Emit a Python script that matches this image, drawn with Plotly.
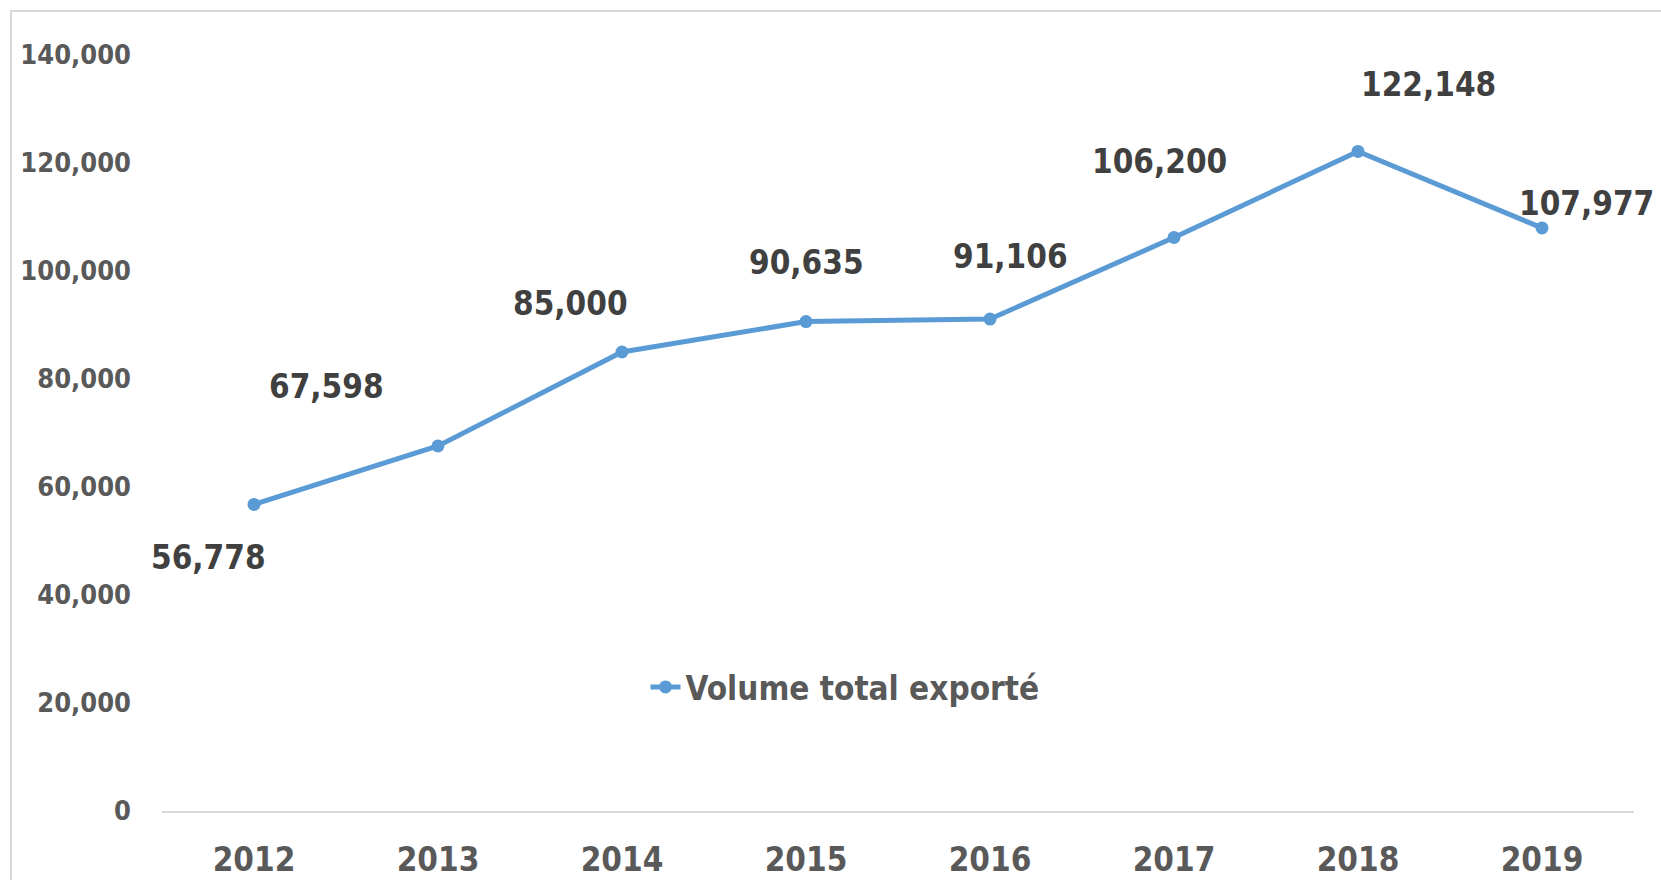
import plotly.graph_objects as go

years = ["2012", "2013", "2014", "2015", "2016", "2017", "2018", "2019"]
volumes = [56778, 67598, 85000, 90635, 91106, 106200, 122148, 107977]
series_name = "Volume total exporté"
y_ticks = [0, 20000, 40000, 60000, 80000, 100000, 120000, 140000]

# label offsets (pixels) relative to each point
label_dx = [-46, -112, -52, 0, 20, -15, 70, 114]
label_dy = [-53, 59, 49, 59, 63, 76, 67, 24]
label_anchor = ["center"] * 7 + ["right"]

FONT = "Liberation Sans Narrow, Arial Narrow, DejaVu Sans Condensed, sans-serif"
BLUE = "#5b9bd5"
BIG = 33

fig = go.Figure()
fig.add_trace(go.Scatter(
    x=years, y=volumes, name=series_name, mode="lines+markers",
    line=dict(color=BLUE, width=5),
    marker=dict(color=BLUE, size=13),
    showlegend=True,
))

for i, (v, dx, dy, anc) in enumerate(zip(volumes, label_dx, label_dy, label_anchor)):
    fig.add_annotation(
        x=i, y=v, xref="x", yref="y", text=f"{v:,}", showarrow=False,
        xshift=dx, yshift=dy, xanchor=anc, yanchor="middle",
        font=dict(family=FONT, size=BIG, color="#404040", weight="bold"),
    )

fig.add_shape(type="rect", xref="paper", yref="paper",
              x0=-0.1026, x1=1.2, y0=-0.3, y1=1.0582,
              line=dict(color="#d9d9d9", width=2), layer="below")

fig.update_layout(
    width=1661, height=880,
    margin=dict(l=162, r=27, t=55, b=69),
    paper_bgcolor="white", plot_bgcolor="white",
    font=dict(family=FONT, color="#595959"),
    legend=dict(x=0.464, y=0.164, xanchor="center", yanchor="middle",
                font=dict(family=FONT, size=BIG, color="#595959", weight="bold"),
                bgcolor="rgba(0,0,0,0)"),
    xaxis=dict(
        type="category", range=[-0.5, 7.5], automargin=False,
        showline=True, linecolor="#d9d9d9", linewidth=2,
        showgrid=False, zeroline=False, ticks="",
        tickfont=dict(family=FONT, size=BIG, color="#595959", weight="bold"),
        ticklabelstandoff=18,
    ),
    yaxis=dict(
        range=[0, 140000], tickvals=y_ticks, automargin=False,
        ticktext=[f"{t:,}" for t in y_ticks],
        showline=False, showgrid=False, zeroline=False, ticks="",
        tickfont=dict(family=FONT, size=27, color="#595959", weight="bold"),
        ticklabelstandoff=30,
    ),
)

fig.write_html("out.html")
